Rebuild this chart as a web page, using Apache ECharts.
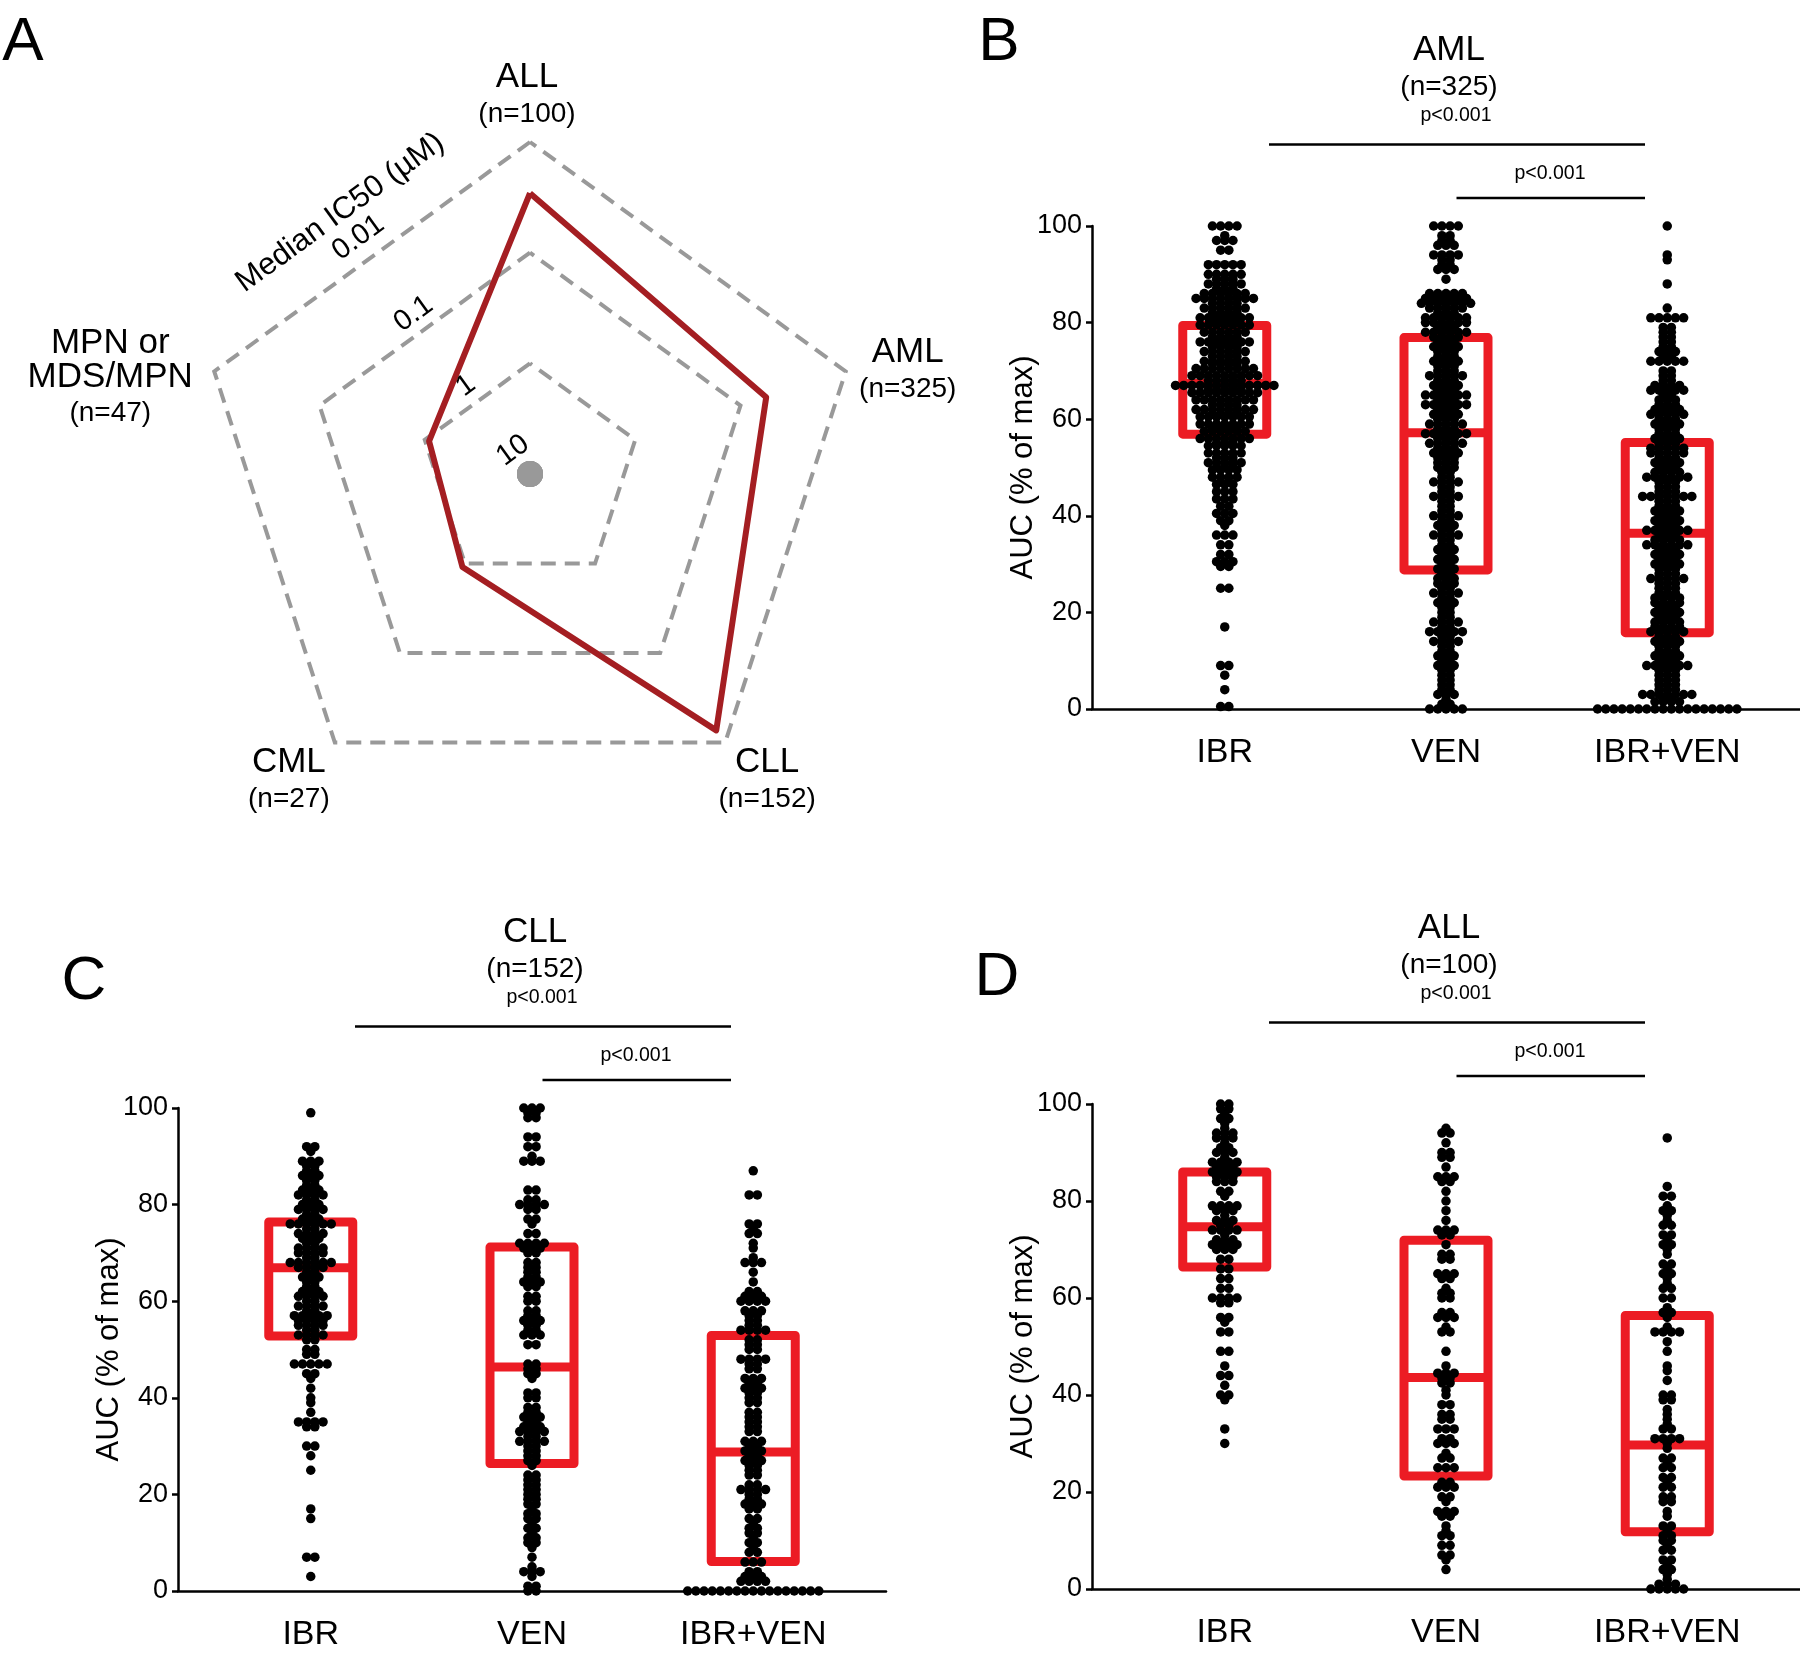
<!DOCTYPE html>
<html><head><meta charset="utf-8">
<script src="https://cdn.jsdelivr.net/npm/echarts@6/dist/echarts.min.js"></script>
<style>html,body{margin:0;padding:0;background:#fff}#c{width:1800px;height:1659px}</style>
</head><body><div id="c"></div>
<script>
// ---------------- DATA ----------------
// Panel A: radar of median IC50 (µM), log scale, centre = 10, outer ring = 0.01
const radarCategories = ['ALL', 'MPN or MDS/MPN', 'CML', 'CLL', 'AML'];
const radarLabelLines = [['ALL'], ['MPN or', 'MDS/MPN'], ['CML'], ['CLL'], ['AML']];
const radarCounts = ['(n=100)', '(n=47)', '(n=27)', '(n=152)', '(n=325)'];
const medianIC50 = [0.029, 1.1, 0.915, 0.0137, 0.057];
const ringTicks = ['10', '1', '0.1', '0.01'];
const radarAxisTitle = 'Median IC50 (µM)';

// Panels B-D
const drugs = ['IBR', 'VEN', 'IBR+VEN'];
const yTicks = [0, 20, 40, 60, 80, 100];
const yName = 'AUC (% of max)';
const pLabel = 'p<0.001';

// rows of dots: [AUC value, number of dots in that row]
const amlIBR = [[100,4],[98,1],[97,3],[95,2],[92,5],[90,5],[89,3],[88,5],[87,3],[86,6],[85,8],[84,4],[83,6],[82,4],[81,7],[80.5,4],[79.5,7],[78,6],[77,4],[76,7],[75,4],[74,6],[73,4],[72,6],[71.5,4],[70.5,8],[69,9],[68,5],[67,13],[66,5],[65.5,9],[64,8],[63,4],[62,8],[61,4],[60.5,7],[59,7],[58,4],[57.5,6],[56,7],[55,3],[54.5,5],[53,5],[52,3],[51,5],[50,3],[49.5,4],[48,4],[47,2],[46.5,3],[45,3],[43.5,3],[42,2],[40.5,3],[39,2],[38,1],[36,3],[34,2],[32,2],[30.5,3],[29.5,2],[25,2],[17,1],[9,2],[7,1],[4,1],[0.5,2]];
const amlVEN = [[100,4],[98,2],[97,2],[96,3],[94,4],[93,2],[92,2],[91,3],[89,1],[86,5],[85,6],[84,7],[83,5],[82,3],[81,6],[80,6],[79,3],[78,6],[77,4],[76,3],[75,4],[74,3],[73,3],[72,4],[71,3],[70,3],[69,5],[68,3],[67,4],[66,3],[65,6],[64,3],[63,6],[62,3],[61,4],[60,3],[59,5],[58,3],[57,6],[56,3],[55,5],[54,3],[53,4],[52,3],[51,3],[50,3],[49,2],[48,2],[47,4],[46,2],[45,2],[44,4],[43,2],[42,2],[41,2],[40,4],[39,2],[38,3],[37,2],[36,4],[35,2],[34,2],[33,3],[32,2],[31,3],[30,2],[29,3],[28,2],[27,3],[26,3],[25,2],[24,4],[23,2],[22,3],[21,2],[20,2],[19,2],[18,4],[17,2],[16,5],[15,2],[14,4],[13,2],[12,2],[11,3],[10,2],[9,3],[8,2],[7,2],[6,2],[5,2],[4,2],[3,3],[2,1],[1,2],[0,5]];
const amlCombo = [[100,1],[94,1],[93,1],[88,1],[83,1],[81,5],[79,2],[78,2],[77,2],[76,2],[75,2],[74,3],[73,2],[72,5],[70,2],[69,2],[68,2],[67,4],[66,5],[65,2],[64,3],[63,3],[62,4],[61,5],[60,3],[59,4],[58,3],[57,3],[56,4],[55,3],[54,5],[53,5],[52,3],[51,4],[50,3],[49,4],[48,6],[47,3],[46,3],[45,3],[44,7],[43,3],[42,3],[41,4],[40,3],[39,4],[38,3],[37,6],[36,3],[35,4],[34,6],[33,3],[32,4],[31,3],[30,4],[29,3],[28,3],[27,5],[26,3],[25,3],[24,3],[23,4],[22,4],[21,3],[20,4],[19,3],[18,4],[17,4],[16,5],[15,3],[14,4],[13,3],[12,3],[11,4],[10,3],[9,6],[8,3],[7,3],[6,3],[5,3],[4,3],[3,7],[2,2],[1.5,4],[0,18]];

const cllIBR = [[99,1],[92,2],[91,1],[89,3],[88,2],[87,2],[86,3],[85,2],[84,2],[83,3],[82,4],[81,2],[80,3],[79,4],[78,2],[77,3],[76,6],[75,2],[74,4],[73,3],[72,2],[71,4],[70,4],[69,2],[68,6],[67,4],[66,2],[65,3],[64,2],[63,2],[62,3],[61,4],[60,2],[59,4],[58,2],[57,5],[56,4],[55,4],[54,2],[53,4],[52,2],[50,2],[49,2],[47,5],[45,2],[44,1],[42,1],[40,1],[39,1],[37,1],[35,4],[34,2],[30,2],[28,1],[25,1],[17,1],[15,1],[7,2],[3,1]];
const cllVEN = [[100,3],[99,2],[98,2],[94,2],[92,2],[90,1],[89,3],[83,2],[81,2],[80,4],[79,2],[77,2],[76,1],[74,2],[72,4],[71,3],[70,2],[68,2],[67,2],[66,2],[65,2],[64,3],[63,2],[61,2],[60,2],[58,2],[57,2],[56,3],[55,2],[54,2],[53,3],[51,2],[47,2],[46,2],[45,2],[44,1],[41,2],[40,2],[38,2],[37,2],[36,3],[35,2],[34,3],[33,4],[32,2],[31,4],[30,2],[29,2],[28,2],[27,2],[26,1],[24,2],[23,2],[22,2],[21,2],[20,2],[19,2],[18,2],[17,1],[16,2],[15,2],[14,1],[13,2],[12,1],[11,2],[10,2],[9,1],[7,1],[5,1],[4,3],[3,1],[1,2],[0,2]];
const cllCombo = [[87,1],[82,2],[76,2],[75,1],[74,2],[72,1],[71,1],[69,1],[68,3],[66,1],[64,1],[62,2],[61,3],[60,4],[58,3],[57,2],[56,2],[55,2],[54,4],[52,2],[51,2],[50,2],[48,4],[47,2],[46,2],[44,3],[43,2],[42,3],[41,2],[40,2],[39,2],[37,2],[36,2],[35,2],[34,2],[33,2],[31,3],[30,2],[29,3],[28,2],[27,3],[26,2],[25,2],[24,2],[22,2],[21,4],[20,2],[19,2],[18,3],[17,2],[15,2],[14,1],[13,2],[12,2],[11,1],[10,2],[9,1],[8,2],[6,3],[4,2],[3,3],[2,4],[0,17]];

const allIBR = [[100,2],[99,2],[98,1],[97,2],[96,1],[95,1],[94,3],[93,3],[92,1],[91,2],[90,3],[89,1],[88,4],[87,3],[86,4],[85,3],[84,3],[82,2],[81,1],[79,4],[78,3],[77,1],[76,3],[75,2],[74,4],[73,1],[72,3],[71,4],[70,3],[68,2],[66,2],[64,2],[62,2],[60,4],[59,2],[56,2],[55,1],[53,2],[49,2],[46,1],[44,2],[42,1],[40,2],[39,1],[33,1],[30,1]];
const allVEN = [[95,1],[94,2],[92,1],[90,2],[89,2],[87,1],[85,3],[84,2],[82,1],[80,1],[78,1],[76,1],[74,3],[73,2],[71,1],[69,2],[68,2],[65,3],[64,2],[62,1],[61,2],[60,2],[57,2],[56,3],[54,1],[53,2],[49,1],[46,1],[44.5,3],[43.5,2],[42.5,2],[41,1],[40,1],[38,2],[36,2],[35,2],[33,3],[31,2],[30,3],[28,1],[27,2],[25,3],[22,2],[21,3],[19,2],[18,1],[16,3],[15,2],[13,1],[12,1],[11,2],[9,2],[7,2],[6,1],[4,1]];
const allCombo = [[93,1],[83,1],[81,2],[79,1],[78,2],[77,1],[76,1],[75,2],[73,2],[72,1],[71,2],[70,1],[69,1],[67,2],[66,1],[65,2],[64,1],[63,1],[62,2],[60,2],[58,1],[57,2],[56,1],[54,1],[53,4],[51,1],[49,1],[46,1],[45,1],[43,1],[40,2],[39,2],[37,1],[36,1],[35,1],[34,1],[33,2],[31,4],[30,1],[29,1],[27,2],[26,1],[25,2],[23,2],[22,1],[21,2],[19,2],[18,2],[16,1],[15,1],[13,2],[12,1],[11,2],[10,2],[9,1],[8,2],[6,2],[5,1],[4,2],[3,1],[2,1],[1,3],[0,5]];

// box stats: [Q1, median, Q3]
const amlBox = [[56.9, 67.4, 79.4], [28.8, 57.2, 76.9], [15.8, 36.4, 55.2]];
const cllBox = [[52.8, 66.9, 76.4], [26.4, 46.4, 71.2], [6.1, 28.8, 52.9]];
const allBox = [[66.4, 74.7, 86.0], [23.3, 43.6, 71.9], [11.8, 29.7, 56.4]];

// ---------------- LAYOUT ----------------
const FONT = '"Liberation Sans", Arial, Helvetica, sans-serif';
const RED = '#ec1c24';
const RC = [530, 474], RR = 332;
const GW = 708;
const panels = [
  {left: 1092, top: 226, h: 483, groups: [amlIBR, amlVEN, amlCombo], box: amlBox, title: 'AML', n: '(n=325)', letter: 'B', letterPos: [999, 43]},
  {left: 178, top: 1108, h: 483, groups: [cllIBR, cllVEN, cllCombo], box: cllBox, title: 'CLL', n: '(n=152)', letter: 'C', letterPos: [84, 982]},
  {left: 1092, top: 1104, h: 485, groups: [allIBR, allVEN, allCombo], box: allBox, title: 'ALL', n: '(n=100)', letter: 'D', letterPos: [997, 978]}
];
const XMIN = 0.4, XMAX = 3.6;
const PX_PER_X = GW / (XMAX - XMIN);
const DOT_R = 4.75, DOT_STEP = 8.2, BOX_HW = 42;

const graphics = [];
function txt(x, y, text, size, rot) {
  graphics.push({type: 'text', x: x, y: y, rotation: rot || 0, z: 100, silent: true,
    style: {text: text, fontSize: size, fontFamily: FONT, fill: '#000', align: 'center', verticalAlign: 'middle'}});
}
function hline(x1, x2, y) {
  graphics.push({type: 'line', z: 100, silent: true, shape: {x1: x1, y1: y, x2: x2, y2: y}, style: {stroke: '#000', lineWidth: 2.5}});
}

// Panel A texts
txt(23, 43, 'A', 62);
const labelOffsets = [[-3, [-65, -28]], [-104, [-28, 6, 42]], [-46, [20, 57]], [42, [20, 57]], [62, [-19, 18]]];
radarCategories.forEach((c, i) => {
  const a = (90 + 72 * i) * Math.PI / 180;
  const vx = RC[0] + RR * Math.cos(a), vy = RC[1] - RR * Math.sin(a);
  const lines = radarLabelLines[i].concat([radarCounts[i]]);
  const off = labelOffsets[i];
  lines.forEach((t, j) => txt(vx + off[0], vy + off[1][j], t, j === lines.length - 1 ? 28 : 35));
});
const dir = [Math.cos(126 * Math.PI / 180), -Math.sin(126 * Math.PI / 180)];
const rot = 36 * Math.PI / 180;
const ringLabelDist = [29, 109, 198, 292], titleDist = 323;
ringTicks.forEach((t, k) => {
  const d = ringLabelDist[k];
  txt(RC[0] + dir[0] * d, RC[1] + dir[1] * d, t, 29, rot);
});
txt(RC[0] + dir[0] * titleDist, RC[1] + dir[1] * titleDist, radarAxisTitle, 31, rot);

// swarm layout: each row centred on the category, dots side by side
function swarm(groups) {
  const out = [];
  groups.forEach((rows, gi) => {
    rows.forEach(([v, k]) => {
      for (let i = 0; i < k; i++) out.push([gi + 1, v, (i - (k - 1) / 2) * DOT_STEP]);
    });
  });
  return out;
}

const grid = [], xAxis = [], yAxis = [], series = [];

series.push({
  type: 'radar', radarIndex: 0, symbol: 'none', silent: true, z: 3,
  lineStyle: {color: '#a41e22', width: 6},
  data: [{value: medianIC50.map(v => 1 - Math.log10(v))}]
});
series.push({
  type: 'radar', radarIndex: 0, symbol: 'circle', symbolSize: 26, silent: true, z: 2,
  itemStyle: {color: '#999999'}, lineStyle: {width: 0, opacity: 0},
  data: [{value: radarCategories.map(() => 0)}]
});

panels.forEach(p => {
  const gi = grid.length;
  grid.push({left: p.left, top: p.top, width: GW, height: p.h, outerBoundsMode: 'none', containLabel: false});
  grid.push({left: p.left + (1 - XMIN) * PX_PER_X - PX_PER_X / 2, top: p.top, width: PX_PER_X * 3, height: p.h, outerBoundsMode: 'none', containLabel: false});
  const xi = xAxis.length, yi = yAxis.length;
  xAxis.push({gridIndex: gi, type: 'value', min: XMIN, max: XMAX,
    axisLine: {show: true, onZero: false, lineStyle: {color: '#000', width: 2.5}},
    axisTick: {show: false}, axisLabel: {show: false}, splitLine: {show: false}});
  xAxis.push({gridIndex: gi + 1, type: 'category', data: drugs,
    axisLine: {show: false}, axisTick: {show: false}, splitLine: {show: false},
    axisLabel: {fontSize: 34, color: '#000', margin: 27, fontFamily: FONT, interval: 0}});
  yAxis.push({gridIndex: gi, type: 'value', min: yTicks[0], max: yTicks[yTicks.length - 1], interval: yTicks[1] - yTicks[0],
    axisLine: {show: true, onZero: false, lineStyle: {color: '#000', width: 2.5}},
    axisTick: {show: true, length: 6, lineStyle: {color: '#000', width: 2.5}},
    axisLabel: {fontSize: 27, color: '#000', margin: 10, fontFamily: FONT},
    splitLine: {show: false},
    name: yName, nameLocation: 'middle', nameRotate: 90, nameGap: 53, nameMoveOverlap: false,
    nameTextStyle: {fontSize: 31, color: '#000', fontFamily: FONT}});
  yAxis.push({gridIndex: gi + 1, type: 'value', min: 0, max: 100, show: false});

  series.push({
    type: 'custom', xAxisIndex: xi, yAxisIndex: yi, silent: true, z: 2,
    dimensions: ['x', 'q1', 'med', 'q3'], encode: {x: 0, y: [1, 2, 3]},
    data: p.box.map((b, i) => [i + 1, b[0], b[1], b[2]]),
    renderItem: (params, api) => {
      const x = api.value(0);
      const t = api.coord([x, api.value(3)]), b = api.coord([x, api.value(1)]), m = api.coord([x, api.value(2)]);
      return {type: 'group', children: [
        {type: 'rect', shape: {x: t[0] - BOX_HW, y: t[1], width: BOX_HW * 2, height: b[1] - t[1]},
          style: {fill: 'none', stroke: RED, lineWidth: 9, lineJoin: 'round'}},
        {type: 'line', shape: {x1: m[0] - BOX_HW, y1: m[1], x2: m[0] + BOX_HW, y2: m[1]},
          style: {stroke: RED, lineWidth: 9}}
      ]};
    }
  });
  series.push({
    type: 'custom', xAxisIndex: xi, yAxisIndex: yi, silent: true, z: 3,
    dimensions: ['x', 'y', 'dx'], encode: {x: 0, y: 1},
    data: swarm(p.groups),
    renderItem: (params, api) => {
      const c = api.coord([api.value(0), api.value(1)]);
      return {type: 'circle', shape: {cx: c[0] + api.value(2), cy: c[1], r: DOT_R}, style: {fill: '#000'}};
    }
  });

  // titles, letters and comparison bars
  txt(p.letterPos[0], p.letterPos[1], p.letter, 62);
  txt(p.left + 357, p.top - 175.5, p.title, 35);
  txt(p.left + 357, p.top - 139, p.n, 28);
  txt(p.left + 364, p.top - 110, pLabel, 19.5);
  hline(p.left + 177, p.left + 553, p.top - 81.5);
  txt(p.left + 458, p.top - 52, pLabel, 19.5);
  hline(p.left + 364.5, p.left + 553, p.top - 28);
});

const chart = echarts.init(document.getElementById('c'), null, {renderer: 'canvas', width: 1800, height: 1659});
chart.setOption({
  animation: false,
  backgroundColor: '#fff',
  textStyle: {fontFamily: FONT},
  radar: {
    center: RC, radius: RR, startAngle: 90, splitNumber: 3, shape: 'polygon',
    indicator: radarCategories.map(n => ({name: n, min: 0, max: 3})),
    axisName: {show: false},
    axisLine: {show: false}, axisTick: {show: false}, axisLabel: {show: false},
    splitLine: {lineStyle: {color: '#999999', width: 4, type: [15, 9]}},
    splitArea: {show: false}
  },
  grid: grid, xAxis: xAxis, yAxis: yAxis, series: series,
  graphic: graphics
});
</script></body></html>
